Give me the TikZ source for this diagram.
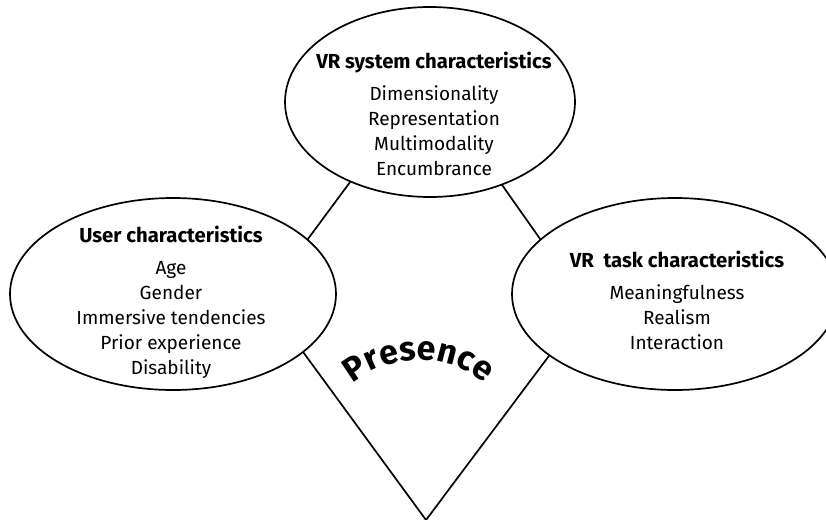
\documentclass[tikz,border=0pt]{standalone}
\usepackage{fontspec}
\setmainfont{Fira Sans}
\usetikzlibrary{shapes.geometric,decorations.text}
\tikzset{
  ell/.style={draw, ellipse, line width=1.7pt, inner sep=0pt, outer sep=0pt},
  conn/.style={line width=1.7pt},
  txt/.style={align=center, anchor=north, font=\fontsize{19}{25}\selectfont, inner sep=0pt},
}
\begin{document}
\begin{tikzpicture}[x=1pt,y=-1pt]
\useasboundingbox (0,0) rectangle (826,519);
\clip (0,0) rectangle (826,519);
\node[ell, minimum width=290pt, minimum height=190pt] (sys) at (430,102) {};
\node[ell, minimum width=326pt, minimum height=192pt] (user) at (173,294) {};
\node[ell, minimum width=326pt, minimum height=192pt] (task) at (675,294) {};
\coordinate (tip) at (426,520);
\draw[conn] (sys.225) -- (user.22);
\draw[conn] (sys.311) -- (task.158);
\draw[conn] (user.336) -- (tip) -- (task.206);
\node[txt] (systxt) at (434,52) {{\bfseries\fontsize{20.3}{25}\selectfont VR system characteristics}\\[7pt]Dimensionality\\Representation\\Multimodality\\Encumbrance};
\node[txt] (usertxt) at (171,226) {{\bfseries\fontsize{20.3}{25}\selectfont User characteristics}\\[7pt]Age\\Gender\\Immersive tendencies\\Prior experience\\Disability};
\node[txt] (tasktxt) at (677,251) {{\bfseries\fontsize{20.3}{25}\selectfont VR\ \ task characteristics}\\[7pt]Meaningfulness\\Realism\\Interaction};
\path[decorate, decoration={text along path, text align=center,
  text={|\bfseries\fontsize{34}{34}\selectfont|Presence}}]
  (419,464) ++(225:104) arc[start angle=225, end angle=315, radius=104];
\end{tikzpicture}
\end{document}
